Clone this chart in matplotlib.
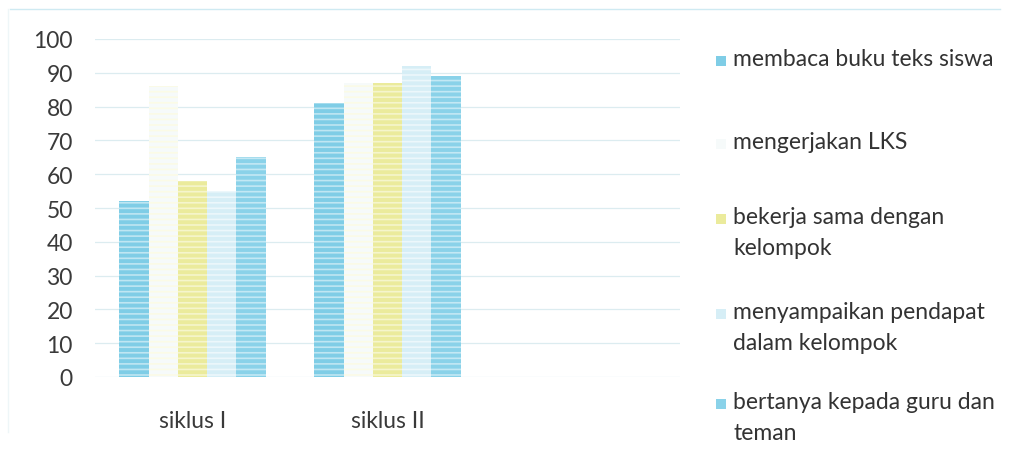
import numpy as np
import matplotlib.pyplot as plt
from matplotlib.patches import Rectangle

categories = ['siklus I', 'siklus II', '']
series = ['membaca buku teks siswa',
          'mengerjakan LKS',
          'bekerja sama dengan\nkelompok',
          'menyampaikan pendapat\ndalam kelompok',
          'bertanya kepada guru dan\nteman']
# third slot is empty in the original chart
membaca = [52, 81, 0]
lks = [86, 87, 0]
bekerja = [58, 87, 0]
menyampaikan = [55, 92, 0]
bertanya = [65, 89, 0]
values = [membaca, lks, bekerja, menyampaikan, bertanya]

colors = ['#7fcde6', '#f6fafa', '#ebeb9c', '#d6eef6', '#8ad2e9']
hatch_colors = ['#bfe6f2', '#fbfbe6', '#f5f5cc', '#ecf7fb', '#c3e8f4']

plt.rcParams['font.family'] = ['Lato', 'DejaVu Sans']
plt.rcParams['hatch.linewidth'] = 1.2

fig = plt.figure(figsize=(10.1, 4.56), dpi=100)
ax = fig.add_axes([95 / 1010, 78 / 456, 585 / 1010, 338 / 456])

x = np.arange(len(categories))
width = 0.15
for i, vals in enumerate(values):
    pos = x + (i - 2) * width
    heights = [v if v > 0 else np.nan for v in vals]
    ax.bar(pos, heights, width, color=colors[i], edgecolor=hatch_colors[i],
           linewidth=0, hatch='---', zorder=2)

ax.set_xlim(-0.5, 2.5)
ax.set_ylim(0, 100)
ax.set_yticks(np.arange(0, 101, 10))
ax.set_xticks(x[:2])
ax.set_xticklabels(categories[:2], fontsize=16.5, color='#3a3a3a')
ax.tick_params(axis='y', labelsize=16.5, colors='#3a3a3a', length=0, pad=16)
ax.tick_params(axis='x', length=0, pad=24)
ax.grid(axis='y', color='#dcecf0', linewidth=0.9, zorder=0)
for s in ax.spines.values():
    s.set_visible(False)

# legend laid out like the original: marker beside the first line of each entry
legend_y = [62, 145, 220, 315, 405]
for i, label in enumerate(series):
    yf = 1 - legend_y[i] / 456
    fig.add_artist(Rectangle((716 / 1010, yf - 5 / 456), 10 / 1010, 10 / 456,
                             transform=fig.transFigure, facecolor=colors[i],
                             edgecolor='none'))
    fig.text(733 / 1010, 1 - (legend_y[i] - 13) / 456, label, fontsize=16.5,
             color='#333333', va='top', ha='left', linespacing=1.6)

# faint frame of the scanned page
fig.add_artist(plt.Line2D([0.01, 0.99], [0.978, 0.978], color='#cfeaf2', linewidth=1))
fig.add_artist(plt.Line2D([0.008, 0.008], [0.05, 0.978], color='#eef6f8', linewidth=1))

fig.savefig('out.png', dpi=100)
